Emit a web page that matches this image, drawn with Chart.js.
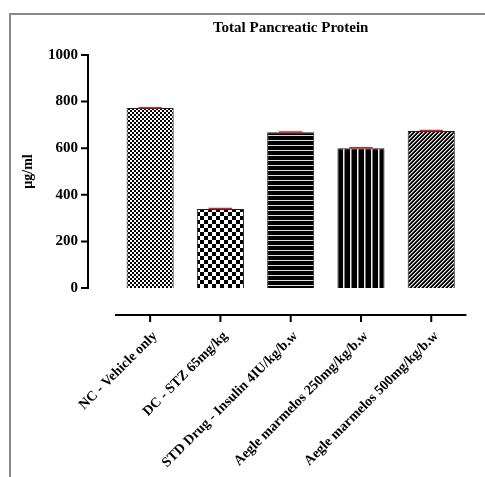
<!DOCTYPE html>
<html>
<head>
<meta charset="utf-8">
<script src="https://cdn.jsdelivr.net/npm/chart.js@4.4.1/dist/chart.umd.min.js"></script>
<style>
  html, body { margin: 0; padding: 0; background: #fff; }
  #wrap { position: absolute; left: 0; top: 0; width: 485px; height: 477px; overflow: hidden; }
  #frame { position: absolute; left: 9px; top: 13px; width: 520px; height: 520px;
           border-left: 2px solid #888; border-top: 2px solid #888; }
  #chart { position: absolute; left: 0; top: 0; }
</style>
</head>
<body>
<div id="wrap">
  <div id="frame"></div>
  <canvas id="chart" width="485" height="477"></canvas>
</div>
<script>
const groups = [
    "NC - Vehicle only",
    "DC - STZ 65mg/kg",
    "STD Drug - Insulin 4IU/kg/b.w",
    "Aegle marmelos 250mg/kg/b.w",
    "Aegle marmelos 500mg/kg/b.w"
]
const protein = [772, 339, 668, 600, 674]
const sem = [2, 2, 2, 2, 2]
const yTicks = [0, 200, 400, 600, 800, 1000]

const SERIF = "'Liberation Serif', 'Times New Roman', serif"
const AXIS_GAP = 27   // graphpad style offset between axes and plot

// small tiles for the bar fills
const makePattern = (size, draw) => {
    const tile = document.createElement('canvas');
    tile.width = size;
    tile.height = size;
    const g = tile.getContext('2d');
    draw(g, size);
    return g.createPattern(tile, 'repeat');
}

const checker = (cell) => makePattern(cell * 2, (g) => {
    g.fillStyle = '#fff';
    g.fillRect(0, 0, cell * 2, cell * 2);
    g.fillStyle = '#000';
    g.fillRect(0, 0, cell, cell);
    g.fillRect(cell, cell, cell, cell);
})

const hStripes = makePattern(5, (g, s) => {
    g.fillStyle = '#000';
    g.fillRect(0, 0, s, s);
    g.fillStyle = '#ddd';
    g.fillRect(0, 0, s, 1);
})

const vStripes = makePattern(7, (g, s) => {
    g.fillStyle = '#000';
    g.fillRect(0, 0, s, s);
    g.fillStyle = '#eee';
    g.fillRect(0, 0, 1.5, s);
})

const diagonal = makePattern(4, (g, s) => {
    g.fillStyle = '#000';
    g.fillRect(0, 0, s, s);
    for (let i = 0; i < s; i++) {
        g.fillStyle = '#eee';
        g.fillRect(i, s - 1 - i, 1, 1);
        g.fillStyle = '#777';
        g.fillRect(i, (s - i) % s, 1, 1);
    }
})

const fills = [checker(2), checker(4), hStripes, vStripes, diagonal]

// axes drawn detached from the plot area, like the original
const offsetAxes = {
    id: 'offsetAxes',
    afterDraw(chart) {
        const { ctx, chartArea, scales } = chart;
        const x = scales.x, y = scales.y;
        ctx.save();
        ctx.strokeStyle = '#000';
        ctx.lineWidth = 2;
        ctx.lineCap = 'square';

        const yLineX = chartArea.left - AXIS_GAP;
        ctx.beginPath();
        ctx.moveTo(yLineX, y.getPixelForValue(yTicks[yTicks.length - 1]));
        ctx.lineTo(yLineX, y.getPixelForValue(yTicks[0]));
        yTicks.forEach((v) => {
            const py = y.getPixelForValue(v);
            ctx.moveTo(yLineX - 6, py);
            ctx.lineTo(yLineX, py);
        })
        ctx.stroke();

        const xLineY = chartArea.bottom + AXIS_GAP;
        ctx.lineCap = 'butt';
        ctx.beginPath();
        ctx.moveTo(chartArea.left, xLineY);
        ctx.lineTo(chartArea.right, xLineY);
        groups.forEach((g, i) => {
            const px = x.getPixelForTick(i);
            ctx.moveTo(px, xLineY);
            ctx.lineTo(px, xLineY + 7);
        })
        ctx.stroke();
        ctx.restore();
    }
}

const errorCaps = {
    id: 'errorCaps',
    afterDatasetsDraw(chart) {
        const { ctx } = chart;
        const y = chart.scales.y;
        const meta = chart.getDatasetMeta(0);
        ctx.save();
        ctx.strokeStyle = '#e02020';
        ctx.lineWidth = 1.5;
        meta.data.forEach((bar, i) => {
            const top = y.getPixelForValue(protein[i] + sem[i]);
            const half = bar.width / 4;
            ctx.beginPath();
            ctx.moveTo(bar.x, bar.y);
            ctx.lineTo(bar.x, top);
            ctx.moveTo(bar.x - half, top);
            ctx.lineTo(bar.x + half, top);
            ctx.stroke();
        })
        ctx.restore();
    }
}

const ctx = document.getElementById('chart').getContext('2d');
new Chart(ctx, {
    type: 'bar',
    data: {
        labels: groups,
        datasets: [{
            data: protein,
            backgroundColor: fills,
            borderColor: '#222',
            borderWidth: 1,
            barPercentage: 0.67,
            categoryPercentage: 1
        }]
    },
    options: {
        responsive: false,
        animation: false,
        layout: { padding: { left: 0, right: 6, top: 0, bottom: 0 } },
        plugins: {
            legend: { display: false },
            tooltip: { enabled: false },
            title: {
                display: true,
                fullSize: false,
                text: 'Total Pancreatic Protein',
                color: '#000',
                font: { family: SERIF, size: 15, weight: 'bold' },
                padding: { top: 19, bottom: 18 }
            }
        },
        scales: {
            x: {
                offset: true,
                grid: { display: false, drawTicks: false },
                border: { display: false },
                ticks: {
                    autoSkip: false,
                    minRotation: 45,
                    maxRotation: 45,
                    padding: 40,
                    labelOffset: 5,
                    color: '#000',
                    font: { family: SERIF, size: 14, weight: 'bold' }
                },
                afterFit: (scale) => { scale.height = 189 }
            },
            y: {
                min: 0,
                max: 1000,
                afterBuildTicks: (scale) => { scale.ticks = yTicks.map((v) => ({ value: v })) },
                grid: { display: false, drawTicks: false },
                border: { display: false },
                ticks: {
                    padding: 37,
                    color: '#000',
                    font: { family: SERIF, size: 15, weight: 'bold' },
                    callback: (v) => String(v)
                },
                title: {
                    display: true,
                    text: 'µg/ml',
                    color: '#000',
                    font: { family: SERIF, size: 14, weight: 'bold' },
                    padding: { top: 20, bottom: 0 }
                },
                afterFit: (scale) => { scale.width = 115 }
            }
        }
    },
    plugins: [offsetAxes, errorCaps]
});
</script>
</body>
</html>
